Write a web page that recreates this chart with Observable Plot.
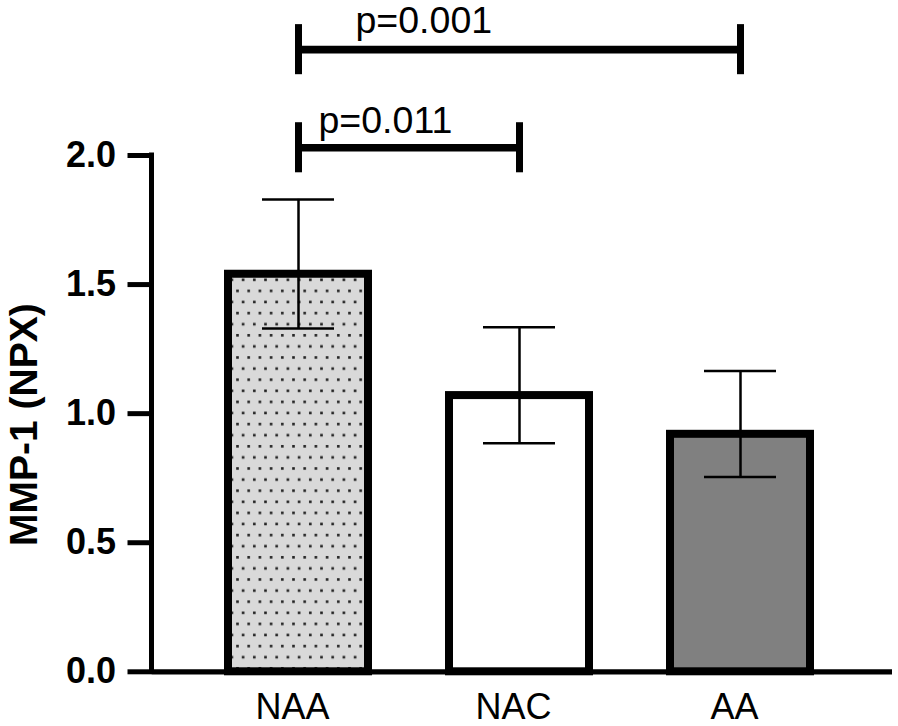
<!DOCTYPE html>
<html><head><meta charset="utf-8">
<script src="https://cdn.jsdelivr.net/npm/d3@7"></script>
<script src="https://cdn.jsdelivr.net/npm/@observablehq/plot@0.6"></script>
<style>body{margin:0;background:#fff} #chart{width:898px;height:726px}</style>
</head><body><div id="chart"></div>
<script>
// ---- data ----
const groups = ["NAA", "NAC", "AA"];
const means = [1.54, 1.07, 0.92];
const errLow = [1.33, 0.885, 0.755];
const errHigh = [1.83, 1.335, 1.165];
const yTicks = [0, 0.5, 1.0, 1.5, 2.0];
const compFrom = ["NAA", "NAA"];
const compTo = ["AA", "NAC"];
const compLevel = [2.41, 2.03];
const compLabel = ["p=0.001", "p=0.011"];
// ---- styles ----
const fills = ["url(#dots)", "#ffffff", "#808080"];
const tickHalf = 0.097;

const bars = groups.map((g, i) => ({group: g, mean: means[i], lo: errLow[i], hi: errHigh[i]}));
const comps = compFrom.map((f, i) => ({from: f, to: compTo[i], level: compLevel[i], label: compLabel[i]}));
const ends = comps.flatMap(c => [{x: c.from, level: c.level}, {x: c.to, level: c.level}]);

// y-axis line drawn from the y scale
function yAxisLine(index, scales, values, dimensions) {
  const g = d3.create("svg:g");
  g.append("line")
    .attr("x1", dimensions.marginLeft).attr("x2", dimensions.marginLeft)
    .attr("y1", scales.y(yTicks[0]) + 2.6).attr("y2", scales.y(yTicks[yTicks.length - 1]) - 2.5)
    .attr("stroke", "#000").attr("stroke-width", 5);
  return g.node();
}

const plot = Plot.plot({
  width: 898, height: 726,
  marginLeft: 151.5, marginRight: 6, marginTop: 155, marginBottom: 54.7,
  style: {fontFamily: "'Liberation Sans', Arial, Helvetica, sans-serif", background: "#fff", overflow: "visible", color: "#000"},
  x: {domain: groups, paddingInner: 0.368, paddingOuter: 0.356, align: 0.48},
  y: {domain: [0, 2]},
  color: {domain: groups, range: fills},
  marks: [
    Plot.barY(bars, {x: "group", y: "mean", fill: "group", stroke: "#000", strokeWidth: 8}),
    Plot.ruleX(bars, {x: "group", y1: "lo", y2: "hi", stroke: "#000", strokeWidth: 2.5}),
    Plot.tickY(bars, {x: "group", y: "lo", inset: 34, stroke: "#000", strokeWidth: 2.5}),
    Plot.tickY(bars, {x: "group", y: "hi", inset: 34, stroke: "#000", strokeWidth: 2.5}),
    Plot.ruleY([0], {stroke: "#000", strokeWidth: 5.3}),
    yAxisLine,
    Plot.axisY({ticks: yTicks, tickFormat: d3.format(".1f"), tickSize: 24, tickPadding: 12,
      stroke: "#000", strokeWidth: 5, fontSize: 36, fontWeight: "bold",
      label: "MMP-1 (NPX)", labelAnchor: "center", labelArrow: false, labelOffset: 143}),
    Plot.axisX({tickSize: 0, tickPadding: 22, fontSize: 36, dx: -6, label: null}),
    Plot.link(comps, {x1: "from", x2: "to", y1: "level", y2: "level", stroke: "#000", strokeWidth: 7.7}),
    Plot.ruleX(ends, {x: "x", y1: d => d.level - tickHalf, y2: d => d.level + tickHalf, stroke: "#000", strokeWidth: 7}),
    Plot.text(comps.slice(0, 1), {x: "from", y: "level", text: "label", textAnchor: "start", lineAnchor: "bottom", dx: 57, dy: -17, fontSize: 37.5, fill: "#000"}),
    Plot.text(comps.slice(1, 2), {x: "from", y: "level", text: "label", textAnchor: "start", lineAnchor: "bottom", dx: 20, dy: -15, fontSize: 37.5, fill: "#000"})
  ]
});

const svgEl = plot.tagName.toLowerCase() === "svg" ? plot : plot.querySelector("svg");
const svg = d3.select(svgEl);
const defs = svg.insert("defs", ":first-child");
const pat = defs.append("pattern").attr("id", "dots").attr("patternUnits", "userSpaceOnUse")
  .attr("width", 11.2).attr("height", 22.2);
pat.append("rect").attr("width", 11.2).attr("height", 22.2).attr("fill", "#d9d9d9");
pat.append("rect").attr("x", 1).attr("y", 1).attr("width", 2.6).attr("height", 2.6).attr("fill", "#222");
pat.append("rect").attr("x", 6.6).attr("y", 12.1).attr("width", 2.6).attr("height", 2.6).attr("fill", "#222");
const lab = svg.select('[aria-label="y-axis label"]');
lab.attr("font-size", 39);
lab.selectAll("text").attr("font-size", 39).each(function() {
  const t = this.getAttribute("transform") || "";
  this.setAttribute("transform", t + " translate(-11,0)");
});

document.getElementById("chart").appendChild(plot);
</script>
</body></html>
